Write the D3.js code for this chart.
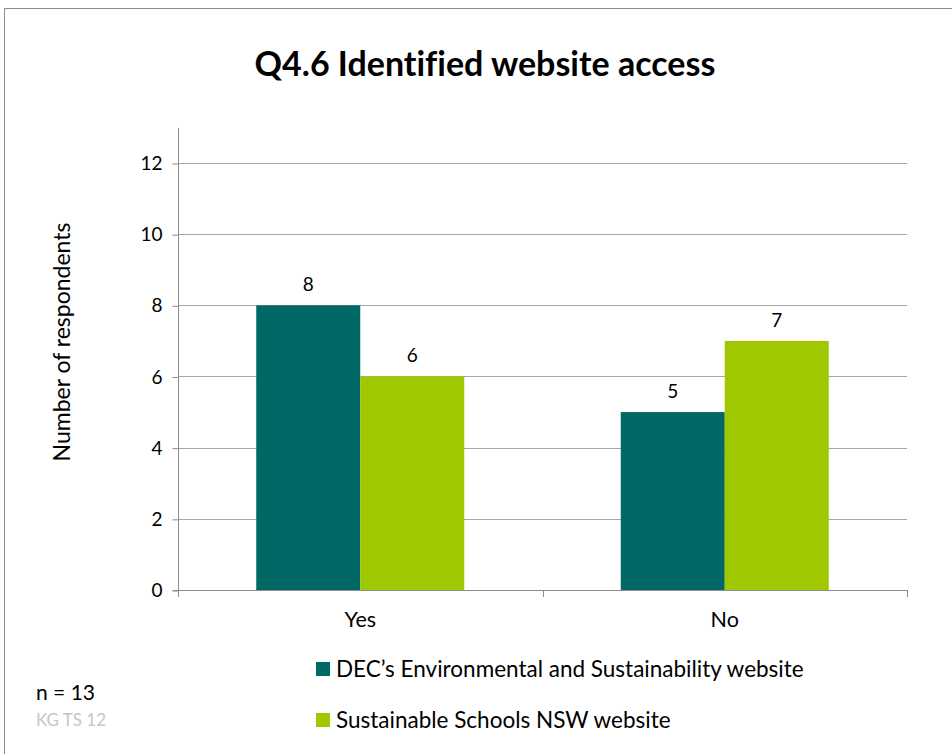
<!DOCTYPE html>
<html>
<head>
<meta charset="utf-8">
<script src="https://cdn.jsdelivr.net/npm/d3@7"></script>
<style>
  html, body { margin: 0; padding: 0; background: #fff; }
  svg { display: block; }
  text { font-family: Lato, "Open Sans", "Liberation Sans", sans-serif; font-variant-ligatures: none; }
</style>
</head>
<body>
<script>
// Survey answers: counts of respondents per website
const categories = ["Yes", "No"];
const seriesNames = ["DEC\u2019s Environmental and Sustainability website", "Sustainable Schools NSW website"];
const decValues = [8, 5];
const sssValues = [6, 7];
const yTicks = [0, 2, 4, 6, 8, 10, 12];
const seriesColors = ["#006865", "#9fc800"];

const W = 952, H = 754;
const svg = d3.select("body").append("svg").attr("width", W).attr("height", H);

// outer chart frame
svg.append("rect")
  .attr("x", 4.5).attr("y", 8.5).attr("width", W + 10).attr("height", H + 10)
  .attr("fill", "#fff").attr("stroke", "#8c8c8c").attr("stroke-width", 1);

const plot = { left: 178, right: 907, top: 127.4, bottom: 590 };

const x0 = d3.scaleBand().domain(categories).range([plot.left, plot.right]).paddingInner(0).paddingOuter(0);
const x1 = d3.scaleBand().domain(seriesNames).range([0, 208]);
const y = d3.scaleLinear().domain([0, 13]).range([plot.bottom, plot.top]);

// title
svg.append("text")
  .attr("x", 485).attr("y", 76)
  .attr("text-anchor", "middle")
  .attr("font-weight", "bold").attr("font-size", 34)
  .attr("fill", "#000")
  .text("Q4.6 Identified website access");

// gridlines
svg.append("g")
  .selectAll("line")
  .data(yTicks.filter(d => d > 0))
  .join("line")
  .attr("x1", plot.left).attr("x2", plot.right)
  .attr("y1", d => Math.round(y(d)) + 0.5).attr("y2", d => Math.round(y(d)) + 0.5)
  .attr("stroke", "#a6a6a6").attr("stroke-width", 1);

// bars
const rows = categories.map((c, i) => ({ cat: c, vals: [decValues[i], sssValues[i]] }));
const groups = svg.append("g").selectAll("g")
  .data(rows).join("g")
  .attr("transform", d => `translate(${x0(d.cat) + x0.bandwidth() / 2 - 104},0)`);

groups.selectAll("rect")
  .data(d => d.vals.map((v, j) => ({ name: seriesNames[j], v, j })))
  .join("rect")
  .attr("x", d => x1(d.name))
  .attr("y", d => y(d.v))
  .attr("width", x1.bandwidth())
  .attr("height", d => y(0) - y(d.v))
  .attr("fill", d => seriesColors[d.j]);

groups.selectAll("text")
  .data(d => d.vals.map((v, j) => ({ name: seriesNames[j], v, j })))
  .join("text")
  .attr("x", d => x1(d.name) + x1.bandwidth() / 2)
  .attr("y", d => y(d.v) - 14)
  .attr("text-anchor", "middle")
  .attr("font-size", 19)
  .attr("fill", "#000")
  .text(d => d.v);

// y axis
const yAxis = d3.axisLeft(y).tickValues(yTicks).tickSize(6).tickPadding(10);
const gy = svg.append("g").attr("transform", `translate(${plot.left + 0.5},0.5)`).call(yAxis);
gy.select(".domain").attr("stroke", "#8c8c8c").attr("d", `M-6,${plot.bottom}H0V${plot.top}`);
gy.selectAll(".tick line").attr("stroke", "#8c8c8c");
gy.selectAll(".tick text").attr("font-size", 19).attr("fill", "#000")
  .attr("font-family", "Lato, 'Open Sans', sans-serif");

// x axis
const xAxis = d3.axisBottom(x0).tickSize(0).tickPadding(21);
const gx = svg.append("g").attr("transform", `translate(0,${plot.bottom + 0.5})`).call(xAxis);
gx.select(".domain").attr("stroke", "#8c8c8c").attr("d", `M${plot.left},0H${plot.right + 0.5}`);
gx.selectAll(".tick text").attr("font-size", 21.5).attr("fill", "#000")
  .attr("font-family", "Lato, 'Open Sans', sans-serif");
// category separators
svg.append("g").selectAll("line")
  .data([plot.left, x0("No"), plot.right])
  .join("line")
  .attr("x1", d => Math.round(d) + 0.5).attr("x2", d => Math.round(d) + 0.5)
  .attr("y1", plot.bottom).attr("y2", plot.bottom + 7)
  .attr("stroke", "#8c8c8c");

// y axis title
svg.append("text")
  .attr("transform", "translate(70,342) rotate(-90)")
  .attr("text-anchor", "middle")
  .attr("font-size", 23).attr("fill", "#000")
  .text("Number of respondents");

// legend
const legend = svg.append("g").selectAll("g")
  .data(seriesNames).join("g")
  .attr("transform", (d, i) => `translate(316,${662 + i * 51})`);
legend.append("rect").attr("width", 14).attr("height", 14)
  .attr("fill", (d, i) => seriesColors[i]);
legend.append("text").attr("x", 20).attr("y", 15)
  .attr("font-size", 22.5).attr("fill", "#000")
  .text(d => d);

// footnotes
svg.append("text").attr("x", 36).attr("y", 700)
  .attr("font-size", 21).attr("fill", "#000").text("n = 13");
svg.append("text").attr("x", 36).attr("y", 726)
  .attr("font-size", 17).attr("fill", "#c6c6c6").text("KG TS 12");
</script>
</body>
</html>
